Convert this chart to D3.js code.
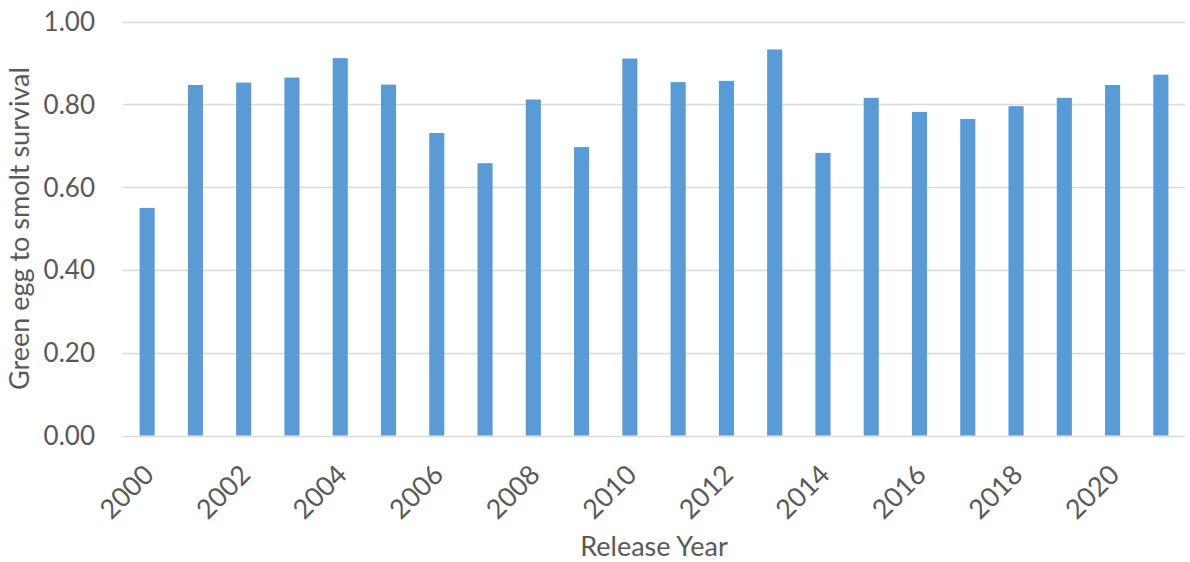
<!DOCTYPE html>
<html>
<head>
<meta charset="utf-8">
<script src="https://cdn.jsdelivr.net/npm/d3@7"></script>
<style>
  html, body { margin: 0; padding: 0; background: #fff; }
  svg { display: block; }
  text { font-family: Lato, "Open Sans", sans-serif; fill: #595959; }
</style>
</head>
<body>
<svg id="chart" width="1190" height="562"></svg>
<script>
// Green egg to smolt survival by release year
const years = [2000, 2001, 2002, 2003, 2004, 2005, 2006, 2007, 2008, 2009, 2010,
               2011, 2012, 2013, 2014, 2015, 2016, 2017, 2018, 2019, 2020, 2021];
const survival = [0.55, 0.847, 0.853, 0.865, 0.912, 0.848, 0.731, 0.658, 0.812, 0.697, 0.911,
                  0.854, 0.857, 0.933, 0.683, 0.816, 0.782, 0.765, 0.796, 0.816, 0.847, 0.872];
const yTicks = [0, 0.2, 0.4, 0.6, 0.8, 1.0];
const xLabelYears = [2000, 2002, 2004, 2006, 2008, 2010, 2012, 2014, 2016, 2018, 2020];

const svg = d3.select("#chart");
const plotLeft = 123, plotRight = 1185, plotTop = 21.7, plotBottom = 435.5;

const x = d3.scaleBand()
  .domain(years)
  .range([plotLeft, plotRight])
  .paddingInner(0.687)
  .paddingOuter(0.3435);

const y = d3.scaleLinear().domain([0, 1]).range([plotBottom, plotTop]);

// horizontal gridlines (including the baseline)
svg.append("g")
  .selectAll("line")
  .data(yTicks)
  .join("line")
  .attr("x1", plotLeft)
  .attr("x2", plotRight)
  .attr("y1", d => Math.round(y(d)) + 0.5)
  .attr("y2", d => Math.round(y(d)) + 0.5)
  .attr("stroke", "#d9d9d9")
  .attr("stroke-width", 1.3);

// y tick labels
svg.append("g")
  .selectAll("text")
  .data(yTicks)
  .join("text")
  .attr("x", 95)
  .attr("y", d => y(d))
  .attr("dy", "0.36em")
  .attr("text-anchor", "end")
  .style("font-size", "26px")
  .text(d => d3.format(".2f")(d));

// bars
svg.append("g")
  .selectAll("rect")
  .data(years.map((yr, i) => ({ yr, v: survival[i] })))
  .join("rect")
  .attr("x", d => x(d.yr))
  .attr("width", x.bandwidth())
  .attr("y", d => y(d.v))
  .attr("height", d => y(0) - y(d.v))
  .attr("fill", "#5b9bd5");

// x tick labels, rotated 45 degrees
svg.append("g")
  .selectAll("text")
  .data(xLabelYears)
  .join("text")
  .attr("transform", d => `translate(${x(d) + x.bandwidth() / 2 - 5},${463}) rotate(-45)`)
  .attr("text-anchor", "end")
  .attr("dy", "0.7em")
  .style("font-size", "27px")
  .text(d => d);

// axis titles
svg.append("text")
  .attr("x", 654)
  .attr("y", 556)
  .attr("text-anchor", "middle")
  .style("font-size", "27px")
  .text("Release Year");

svg.append("text")
  .attr("transform", `translate(28.5,${(plotTop + plotBottom) / 2}) rotate(-90)`)
  .attr("text-anchor", "middle")
  .style("font-size", "27px")
  .text("Green egg to smolt survival");
</script>
</body>
</html>
